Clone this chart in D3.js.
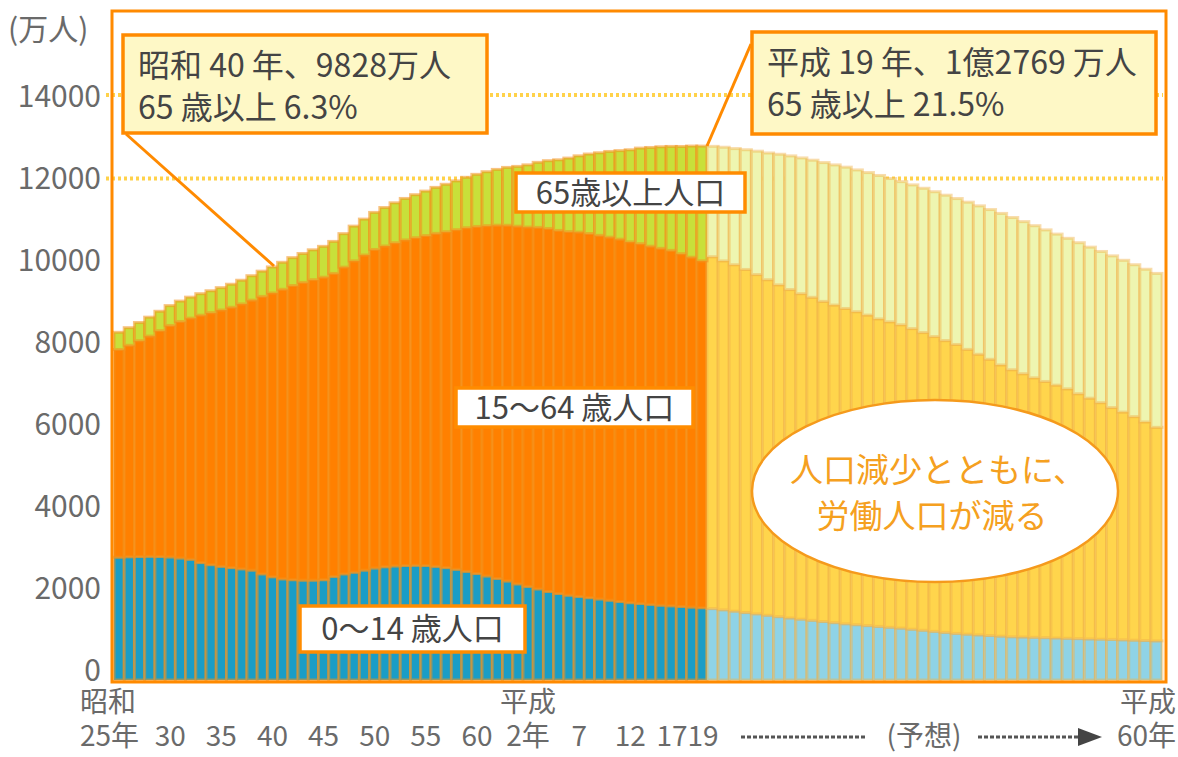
<!DOCTYPE html>
<html>
<head>
<meta charset="utf-8">
<script src="https://cdn.jsdelivr.net/npm/d3@7"></script>
<style>
body{margin:0;background:#fff}
svg{display:block}
text{font-family:"Noto Sans CJK JP","Noto Sans",sans-serif}
</style>
</head>
<body>
<div id="chart"></div>
<script>
// 年齢3区分別人口（万人） 昭和25年〜平成19年 実績、平成20年〜60年 予想
var yearsObs = d3.range(1950, 2008)
var yearsProj = d3.range(2008, 2049)

var youngObs = [2940,2950,2955,2960,2955,2945,2920,2890,2810,2760,
  2720,2690,2660,2630,2540,2470,2420,2400,2390,2390,
  2400,2480,2540,2580,2630,2680,2710,2730,2740,2745,
  2740,2720,2690,2650,2600,2550,2490,2430,2370,2300,
  2240,2180,2120,2070,2030,2000,1970,1940,1910,1880,
  1850,1830,1810,1790,1775,1760,1745,1730]
var workObs = [4970,5060,5165,5270,5405,5540,5660,5770,5920,6030,
  6134,6230,6340,6460,6640,6791,6930,7040,7125,7190,
  7239,7250,7340,7450,7540,7623,7676,7734,7791,7840,
  7895,7968,8038,8127,8223,8304,8383,8454,8512,8560,
  8599,8652,8686,8689,8701,8718,8715,8701,8688,8670,
  8635,8612,8571,8540,8506,8441,8373,8301]
var oldObs = [411,421,435,453,464,475,488,502,515,525,
  535,551,567,585,604,624,646,668,692,715,
  739,766,802,832,860,887,921,956,993,1029,
  1065,1101,1135,1167,1207,1247,1291,1335,1385,1431,
  1489,1556,1622,1690,1759,1826,1902,1976,2051,2119,
  2204,2287,2363,2431,2488,2567,2660,2746]

var youngProj = [1710,1680,1648,1615,1583,1550,1517,1484,1456,1428,
  1400,1373,1346,1324,1303,1282,1262,1241,1215,1190,
  1164,1139,1115,1097,1080,1065,1050,1035,1030,1022,
  1014,1006,998,991,984,977,970,962,953,945,936]
var workProj = [8420,8350,8290,8210,8120,8030,7940,7860,7790,7730,
  7660,7600,7545,7490,7430,7360,7310,7260,7195,7125,
  7055,6985,6915,6815,6715,6610,6490,6390,6300,6210,
  6130,6050,5970,5860,5760,5660,5550,5450,5350,5230,5110]
var oldProj = [2641,2720,2780,2865,2952,3032,3125,3199,3248,3282,
  3323,3354,3382,3393,3411,3432,3429,3426,3439,3453,
  3466,3478,3492,3523,3552,3583,3626,3643,3640,3640,
  3628,3615,3602,3614,3615,3618,3630,3632,3635,3655,3684]

var yTicks = [0,2000,4000,6000,8000,10000,12000,14000]
var guideLines = [12000,14000]
var xTickYears = [1950,1955,1960,1965,1970,1975,1980,1985,1990,1995,2000,2005,2007]
var xTickLabels = ["25年","30","35","40","45","50","55","60","2年","7","12","17","19"]
var keys = ["young","work","old"]
var obsColors = ["#1a9dc6","#ff8000","#c8e03a"]
var projColors = ["#8fd3e6","#ffd54c","#eef5b0"]

var rows = []
yearsObs.forEach(function(y,i){
  rows.push({year:y,proj:false,young:youngObs[i],work:workObs[i],old:oldObs[i]})
})
yearsProj.forEach(function(y,i){
  rows.push({year:y,proj:true,young:youngProj[i],work:workProj[i],old:oldProj[i]})
})

var width=1178,height=757
var svg=d3.select("#chart").append("svg")
  .attr("width",width).attr("height",height)

var x=d3.scaleLinear().domain([1950,2008,2049]).range([114,707,1162])
var y=d3.scaleLinear().domain([0,14000]).range([680,95])
var yLab=d3.scaleLinear().domain([0,14000]).range([670,96])

// dotted guide lines
svg.selectAll(".guide").data(guideLines).enter().append("line")
  .attr("x1",106).attr("x2",1163)
  .attr("y1",function(d){return y(d)}).attr("y2",function(d){return y(d)})
  .attr("stroke","#ffd24a").attr("stroke-width",4)
  .attr("stroke-dasharray","3,3")

// stacked bars
var series=d3.stack().keys(keys)(rows)
series.forEach(function(s,k){
  svg.append("g").selectAll("rect").data(s).enter().append("rect")
    .attr("x",function(d){return x(d.data.year)})
    .attr("width",function(d){return x(d.data.year+1)-x(d.data.year)})
    .attr("y",function(d){return y(d[1])})
    .attr("height",function(d){return y(d[0])-y(d[1])})
    .attr("fill",function(d){return d.data.proj?projColors[k]:obsColors[k]})
    .attr("stroke",function(d){return d.data.proj?"#f0b24a":"#f3921c"})
    .attr("stroke-opacity",function(d){return d.data.proj?0.45:0.55})
    .attr("stroke-width",3)
})

// frame
svg.append("rect").attr("x",112).attr("y",11).attr("width",1054).attr("height",671)
  .attr("fill","none").attr("stroke","#ff8a00").attr("stroke-width",3)

// y axis labels
svg.selectAll(".ylab").data(yTicks).enter().append("text")
  .attr("x",101).attr("y",function(d){return yLab(d)})
  .attr("dy","0.36em").attr("text-anchor","end")
  .attr("font-size","30px").attr("fill","#6a6a6a")
  .text(function(d){return d})
svg.append("text").attr("x",8).attr("y",40)
  .attr("font-size","30px").attr("fill","#6a6a6a").text("(万人)")

// x axis labels
var xl=svg.append("g").attr("font-size","28px").attr("fill","#6a6a6a")
xTickYears.forEach(function(yr,i){
  var t=xl.append("text").attr("y",746).text(xTickLabels[i])
  if(yr==2005){t.attr("x",x(2006.1)).attr("text-anchor","end")}
  else if(yr==2007){t.attr("x",x(2006.1)).attr("text-anchor","start")}
  else if(yr==1950){t.attr("x",x(1950)-34).attr("text-anchor","start")}
  else{t.attr("x",x(yr+0.5)).attr("text-anchor","middle")}
})
xl.append("text").attr("x",x(1950)-34).attr("y",712).text("昭和")
xl.append("text").attr("x",x(1990.5)).attr("y",712).attr("text-anchor","middle").text("平成")
xl.append("text").attr("x",1176).attr("y",712).attr("text-anchor","end").text("平成")
xl.append("text").attr("x",1176).attr("y",746).attr("text-anchor","end").text("60年")
xl.append("text").attr("x",924).attr("y",746).attr("text-anchor","middle").text("(予想)")
svg.append("line").attr("x1",741).attr("x2",866).attr("y1",737).attr("y2",737)
  .attr("stroke","#555").attr("stroke-width",3).attr("stroke-dasharray","4,2")
svg.append("line").attr("x1",978).attr("x2",1078).attr("y1",737).attr("y2",737)
  .attr("stroke","#555").attr("stroke-width",3).attr("stroke-dasharray","4,2")
svg.append("path").attr("d","M1078,728L1102,737L1078,746Z").attr("fill","#444")

// ellipse note
svg.append("ellipse").attr("cx",935).attr("cy",491).attr("rx",183).attr("ry",91)
  .attr("fill","#fff").attr("stroke","#f59a1c").attr("stroke-width",2.5)
svg.append("text").attr("x",938).attr("y",482).attr("text-anchor","middle")
  .attr("font-size","33px").attr("fill","#f5a020").text("人口減少とともに、")
svg.append("text").attr("x",932).attr("y",528).attr("text-anchor","middle")
  .attr("font-size","33px").attr("fill","#f5a020").text("労働人口が減る")

// series labels
function tag(x0,y0,w,h,txt){
  svg.append("rect").attr("x",x0).attr("y",y0).attr("width",w).attr("height",h)
    .attr("fill","#fff").attr("stroke","#ff8c00").attr("stroke-width",3.5)
  svg.append("text").attr("x",x0+w/2).attr("y",y0+h/2).attr("dy","0.36em")
    .attr("text-anchor","middle").attr("font-size","31px").attr("fill","#444").text(txt)
}
tag(516,173,229,39,"65歳以上人口")
tag(456,388,237,39,"15〜64 歳人口")
tag(300,606,225,46,"0〜14 歳人口")

// callouts
svg.append("line").attr("x1",126).attr("y1",134).attr("x2",274).attr("y2",266)
  .attr("stroke","#ff8a00").attr("stroke-width",3)
svg.append("line").attr("x1",751).attr("y1",44).attr("x2",707).attr("y2",146)
  .attr("stroke","#ff8a00").attr("stroke-width",3)
function callout(x0,y0,w,h,l1,l2){
  svg.append("rect").attr("x",x0).attr("y",y0).attr("width",w).attr("height",h)
    .attr("fill","#fef8c6").attr("stroke","#ff8a00").attr("stroke-width",3.5)
  svg.append("text").attr("x",x0+15).attr("y",y0+42).attr("font-size","32px").attr("fill","#444").text(l1)
  svg.append("text").attr("x",x0+15).attr("y",y0+84).attr("font-size","32px").attr("fill","#444").text(l2)
}
callout(123,35,364,98,"昭和 40 年、9828万人","65 歳以上 6.3%")
callout(752,32,404,102,"平成 19 年、1億2769 万人","65 歳以上 21.5%")
</script>
</body>
</html>
